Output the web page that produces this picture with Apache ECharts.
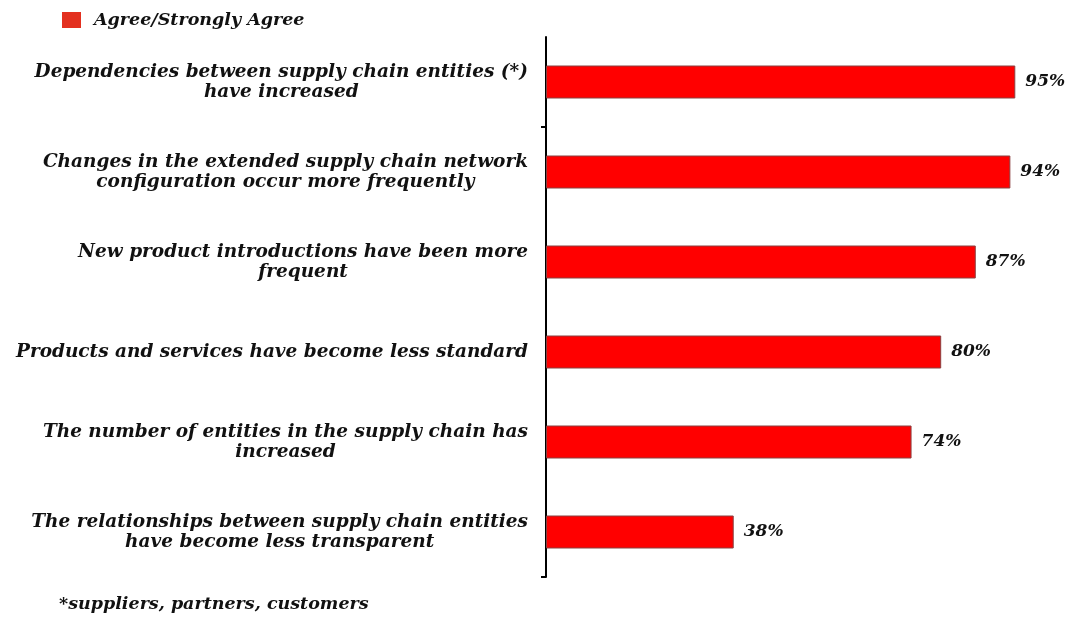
<!DOCTYPE html>
<html>
<head>
<meta charset="utf-8">
<script src="https://cdn.jsdelivr.net/npm/echarts@6/dist/echarts.min.js"></script>
<style>
  html, body { margin: 0; padding: 0; background: #fff; }
  #holder { width: 1072px; height: 624px; }
</style>
</head>
<body>
<div id="holder"></div>
<script>
var categories = [
  'Dependencies between supply chain entities (*)\nhave increased',
  'Changes in the extended supply chain network\nconfiguration occur more frequently',
  'New product introductions have been more\nfrequent',
  'Products and services have become less standard',
  'The number of entities in the supply chain has\nincreased',
  'The relationships between supply chain entities\nhave become less transparent'
]
var agree = [95, 94, 87, 80, 74, 38]
var seriesName = 'Agree/Strongly Agree'
var footnote = '*suppliers, partners, customers'
// the original axis only has a tick after the first row and at the bottom
var tickRows = [1, 6]

var font = 'DejaVu Serif'

var myChart = echarts.init(document.getElementById('holder'))

var option = {
  animation: false,
  title: {
    text: footnote,
    left: 54,
    bottom: 6,
    textStyle: { fontFamily: font, fontStyle: 'italic', fontWeight: 'bold', fontSize: 17.5, color: '#111' }
  },
  legend: {
    left: 57,
    top: 6,
    icon: 'rect',
    itemWidth: 19,
    itemHeight: 16,
    itemGap: 10,
    data: [{ name: seriesName, itemStyle: { color: '#e3301f', borderWidth: 0 } }],
    textStyle: { fontFamily: font, fontStyle: 'italic', fontWeight: 'bold', fontSize: 17.5, color: '#111', padding: [0, 0, 0, 8] }
  },
  grid: { left: 546, right: 32, top: 37, bottom: 47 },
  xAxis: {
    type: 'value',
    min: 0,
    max: 100,
    show: false
  },
  yAxis: [
    {
      type: 'category',
      inverse: true,
      data: categories,
      axisLine: { lineStyle: { color: '#000', width: 2 } },
      axisTick: { show: false },
      axisLabel: {
        margin: 18,
        formatter: function (v) {
          return v.split('\n').map(function (l) { return '{c|' + l + '}' }).join('\n')
        },
        rich: {
          c: {
            align: 'center',
            fontFamily: font,
            fontStyle: 'italic',
            fontWeight: 'bold',
            fontSize: 18.5,
            lineHeight: 20,
            color: '#111'
          }
        }
      }
    },
    {
      // only used to draw the two ticks
      type: 'value',
      position: 'left',
      inverse: true,
      min: 0,
      max: categories.length,
      axisLine: { show: false },
      splitLine: { show: false },
      axisLabel: { show: false },
      axisTick: {
        show: true,
        length: 5,
        customValues: tickRows,
        lineStyle: { color: '#000', width: 2 }
      }
    }
  ],
  series: [
    {
      name: seriesName,
      type: 'bar',
      data: agree,
      barWidth: 33,
      itemStyle: { color: '#ff0000', borderColor: '#8a4040', borderWidth: 1 },
      label: {
        show: true,
        position: 'right',
        distance: 10,
        formatter: '{c}%',
        fontFamily: font,
        fontStyle: 'italic',
        fontWeight: 'bold',
        fontSize: 17,
        color: '#111'
      }
    }
  ]
}

myChart.setOption(option)
</script>
</body>
</html>
